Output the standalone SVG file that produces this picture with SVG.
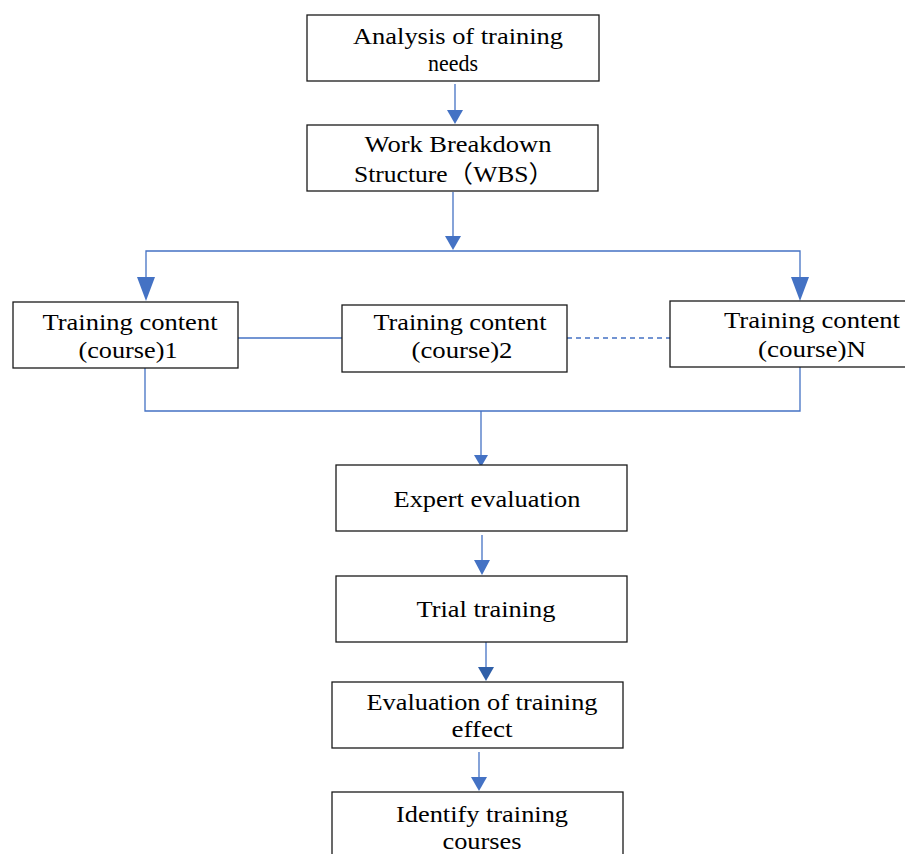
<svg xmlns="http://www.w3.org/2000/svg" width="905" height="854" viewBox="0 0 905 854">
<style>
.box{fill:#fff;stroke:#1a1a1a;stroke-width:1.3}
.t{font-family:'Liberation Serif','Times New Roman','Noto Sans CJK SC',serif;font-size:24px;fill:#000;text-anchor:middle}
.ln{fill:none;stroke:#4472C4;stroke-width:1.3}
.dash{stroke-dasharray:5,4}
.ah{fill:#4472C4}
.ahd{fill:#2F5FA8}
</style>
<rect width="905" height="854" fill="#fff"/>
<g id="connectors">
<line class="ln" x1="455" y1="84" x2="455" y2="112"/>
<polygon class="ah" points="447,110 463,110 455,124"/>
<line class="ln" x1="453" y1="192" x2="453" y2="238"/>
<polygon class="ah" points="445,236 461,236 453,250"/>
<polyline class="ln" points="146,290 146,251 800,251 800,290"/>
<polygon class="ah" points="137,277 155,277 146,301"/>
<polygon class="ah" points="791,277 809,277 800,301"/>
<line class="ln" x1="238" y1="338" x2="342" y2="338"/>
<line class="ln dash" x1="567" y1="338" x2="670" y2="338"/>
<polyline class="ln" points="145,368 145,411 800,411 800,367"/>
<line class="ln" x1="481" y1="411" x2="481" y2="457"/>
<polygon class="ah" points="474,455 488,455 481,467"/>
<line class="ln" x1="482" y1="535" x2="482" y2="562"/>
<polygon class="ah" points="474,560 490,560 482,575"/>
<line class="ln" x1="486" y1="642" x2="486" y2="669"/>
<polygon class="ahd" points="478,667 494,667 486,681"/>
<line class="ln" x1="479" y1="752" x2="479" y2="779"/>
<polygon class="ah" points="471,777 487,777 479,791"/>
</g>
<g id="n1">
<rect class="box" x="307" y="15" width="292" height="66"/>
<text class="t" x="458" y="44" textLength="210" lengthAdjust="spacingAndGlyphs">Analysis of training</text>
<text class="t" x="453" y="71" textLength="50" lengthAdjust="spacingAndGlyphs">needs</text>
</g>
<g id="n2">
<rect class="box" x="307" y="125" width="291" height="66"/>
<text class="t" x="458" y="152" textLength="187" lengthAdjust="spacingAndGlyphs">Work Breakdown</text>
<text class="t" x="454" y="182" textLength="200" lengthAdjust="spacingAndGlyphs">Structure（WBS）</text>
</g>
<g id="c1">
<rect class="box" x="13" y="302" width="225" height="66"/>
<text class="t" x="130" y="330" textLength="175" lengthAdjust="spacingAndGlyphs">Training content</text>
<text class="t" x="128" y="358" textLength="99" lengthAdjust="spacingAndGlyphs">(course)1</text>
</g>
<g id="c2">
<rect class="box" x="342" y="305" width="225" height="67"/>
<text class="t" x="460" y="330" textLength="173" lengthAdjust="spacingAndGlyphs">Training content</text>
<text class="t" x="462" y="358" textLength="101" lengthAdjust="spacingAndGlyphs">(course)2</text>
</g>
<g id="cN">
<rect class="box" x="670" y="301" width="240" height="66"/>
<text class="t" x="812" y="328" textLength="176" lengthAdjust="spacingAndGlyphs">Training content</text>
<text class="t" x="812" y="357" textLength="108" lengthAdjust="spacingAndGlyphs">(course)N</text>
</g>
<g id="expert">
<rect class="box" x="336" y="465" width="291" height="66"/>
<text class="t" x="487" y="507" textLength="187" lengthAdjust="spacingAndGlyphs">Expert evaluation</text>
</g>
<g id="trial">
<rect class="box" x="336" y="576" width="291" height="66"/>
<text class="t" x="486" y="617" textLength="139" lengthAdjust="spacingAndGlyphs">Trial training</text>
</g>
<g id="evaluation">
<rect class="box" x="332" y="682" width="291" height="66"/>
<text class="t" x="482" y="710" textLength="231" lengthAdjust="spacingAndGlyphs">Evaluation of training</text>
<text class="t" x="482" y="737" textLength="61" lengthAdjust="spacingAndGlyphs">effect</text>
</g>
<g id="identify">
<rect class="box" x="332" y="792" width="291" height="80"/>
<text class="t" x="482" y="822" textLength="172" lengthAdjust="spacingAndGlyphs">Identify training</text>
<text class="t" x="482" y="849" textLength="79" lengthAdjust="spacingAndGlyphs">courses</text>
</g>
</svg>
